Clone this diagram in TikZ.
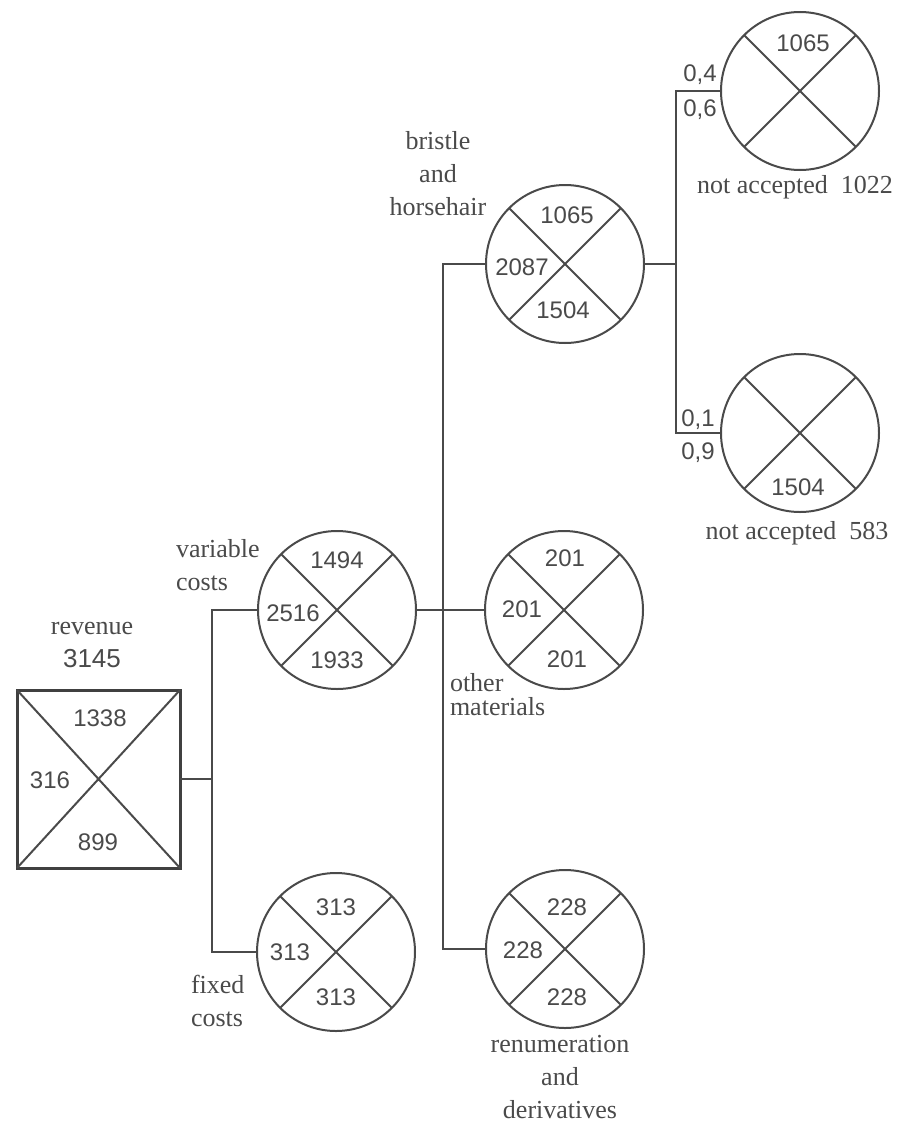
\documentclass[tikz,border=0pt]{standalone}
\usepackage{fontspec}
\setmainfont{Liberation Serif}
\newfontfamily\numfont{Liberation Sans}
\definecolor{ink}{HTML}{4A4A4A}

\begin{document}
\begin{tikzpicture}[x=0.5pt,y=-0.5pt,line width=1pt,color=ink,
    pie/.style={circle,draw,minimum size=79pt,inner sep=0pt,outer sep=0pt},
    num/.style={font=\numfont\fontsize{12}{14}\selectfont,inner sep=1pt},
    lbl/.style={font=\fontsize{13}{16.5}\selectfont,inner sep=0pt}]
    \useasboundingbox (0,0) rectangle (912,1124);
    % revenue square
    \node[draw,line width=1.5pt,color=black!75,minimum width=81.5pt,minimum height=89pt,inner sep=0pt,outer sep=0pt] (rev) at (98.5,779) {};
    \draw (rev.north west) -- (rev.south east) (rev.north east) -- (rev.south west);
    \node[lbl,align=center] (rev-name) at (92,645) {revenue\\{\numfont 3145}};
    \node[num] (rev-t) at (100,718) {1338};
    \node[num] (rev-l) at (50,780) {316};
    \node[num] (rev-b) at (98,842) {899};
    % cost circles
    \node[pie] (var) at (337,610) {};
    \node[pie] (fix) at (336,952) {};
    \node[pie] (bri) at (565,264) {};
    \node[pie] (oth) at (564,610) {};
    \node[pie] (ren) at (565,949) {};
    \node[pie] (na1) at (800,91) {};
    \node[pie] (na2) at (800,433) {};
    % crosses
    \draw (var.135) -- (var.-45) (var.45) -- (var.-135);
    \draw (fix.135) -- (fix.-45) (fix.45) -- (fix.-135);
    \draw (bri.135) -- (bri.-45) (bri.45) -- (bri.-135);
    \draw (oth.135) -- (oth.-45) (oth.45) -- (oth.-135);
    \draw (ren.135) -- (ren.-45) (ren.45) -- (ren.-135);
    \draw (na1.135) -- (na1.-45) (na1.45) -- (na1.-135);
    \draw (na2.135) -- (na2.-45) (na2.45) -- (na2.-135);
    % values in the circles
    \node[num] (var-t) at (337,560) {1494};
    \node[num] (var-l) at (293,613) {2516};
    \node[num] (var-b) at (337,660) {1933};
    \node[num] (fix-t) at (336,907) {313};
    \node[num] (fix-l) at (290,952) {313};
    \node[num] (fix-b) at (336,997) {313};
    \node[num] (bri-t) at (567,215) {1065};
    \node[num] (bri-l) at (522,267) {2087};
    \node[num] (bri-b) at (563,310) {1504};
    \node[num] (oth-t) at (565,558) {201};
    \node[num] (oth-l) at (522,609) {201};
    \node[num] (oth-b) at (567,659) {201};
    \node[num] (ren-t) at (567,907) {228};
    \node[num] (ren-l) at (523,950) {228};
    \node[num] (ren-b) at (567,997) {228};
    \node[num] (na1-t) at (803,43) {1065};
    \node[num] (na2-b) at (798,487) {1504};
    % probabilities
    \node[num] (p04) at (700,75) {0,4};
    \node[num] (p06) at (700,110) {0,6};
    \node[num] (p01) at (698,420) {0,1};
    \node[num] (p09) at (698,453) {0,9};
    % names
    \node[lbl,align=left,anchor=west] (var-name) at (175,565) {variable\\costs};
    \node[lbl,align=left,anchor=west] (fix-name) at (190,1001) {fixed\\costs};
    \node[lbl,align=center] (bri-name) at (438,174) {bristle\\and\\horsehair};
    \node[lbl,align=left,anchor=west] (oth-name) at (449,695) {other\\[-4.5pt]materials};
    \node[lbl,align=center] (ren-name) at (560,1077) {renumeration\\and\\derivatives};
    \node[lbl] (na1-name) at (795,187) {not accepted\ \ 1022};
    \node[lbl] (na2-name) at (797,533) {not accepted\ \ 583};
    % connectors
    \coordinate (busA) at (212,0);
    \coordinate (busB) at (443,0);
    \coordinate (busC) at (676,0);
    \draw (rev.east) -- (rev.east -| busA);
    \draw (var.west) -- (var.west -| busA) -- (fix.west -| busA) -- (fix.west);
    \draw (var.east) -- (oth.west);
    \draw (bri.west) -- (bri.west -| busB) -- (ren.west -| busB) -- (ren.west);
    \draw (bri.east) -- (bri.east -| busC);
    \draw (na1.west) -- (na1.west -| busC) -- (na2.west -| busC) -- (na2.west);
\end{tikzpicture}
\end{document}
